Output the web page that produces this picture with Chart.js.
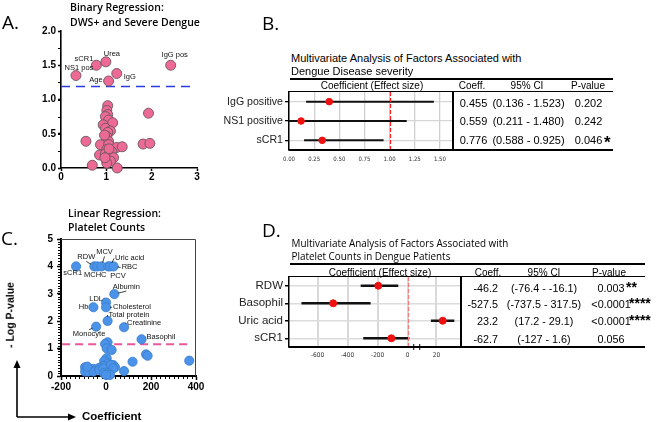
<!DOCTYPE html>
<html>
<head>
<meta charset="utf-8">
<script src="https://cdn.jsdelivr.net/npm/chart.js@4.4.0/dist/chart.umd.min.js"></script>
<style>
  html, body { margin: 0; padding: 0; background: #fff; }
  #page { position: relative; width: 661px; height: 422px; overflow: hidden; font-family: "Liberation Sans", Arial, sans-serif; color: #000; }
  .box { position: absolute; }
  .t { position: absolute; white-space: nowrap; line-height: 1; }
  .rule { position: absolute; background: #000; }
</style>
</head>
<body>
<div id="page">
  <svg class="box" style="left:0;top:0" width="661" height="422">
    <line x1="17" y1="417" x2="17" y2="367" stroke="#000" stroke-width="1.6"/>
    <polygon points="17,360 13.5,368 20.5,368" fill="#000"/>
    <line x1="17" y1="417" x2="69" y2="417" stroke="#000" stroke-width="1.6"/>
    <polygon points="76,417 68,413.5 68,420.5" fill="#000"/>
  </svg>
  <div class="box" style="left:0px;top:0px"><canvas id="cA" width="225" height="190"></canvas></div>
  <div class="box" style="left:0px;top:190px"><canvas id="cC" width="225" height="232"></canvas></div>
  <div class="box" style="left:215px;top:75px"><canvas id="cB" width="250" height="100"></canvas></div>
  <div class="box" style="left:215px;top:262px"><canvas id="cD" width="255" height="100"></canvas></div>
</div>
<script>
// ---- A: binary regression, DWS+ and severe dengue (x = coefficient, y = -log p) ----
var aNames = ["NS1 pos", "sCR1", "Urea", "IgG pos", "Age", "IgG"];
var aNamedX = [0.33, 0.78, 0.99, 2.42, 1.05, 1.23];
var aNamedY = [1.35, 1.50, 1.55, 1.50, 1.27, 1.38];
var aX = [1.03, 1.01, 1.03, 0.98, 1.05, 0.93, 1.14, 0.98, 1.09, 1.03, 1.01, 1.00, 1.05, 0.55, 0.87, 1.05, 1.23, 1.35,
          1.01, 1.12, 0.85, 0.98, 1.05, 1.16, 1.00, 1.09, 0.69, 1.24, 1.93, 1.81, 1.96, 1.01, 0.96, 1.06, 0.97];
var aY = [0.91, 0.84, 0.78, 0.75, 0.70, 0.63, 0.66, 0.58, 0.54, 0.52, 0.46, 0.41, 0.39, 0.39, 0.34, 0.34, 0.30, 0.31,
          0.27, 0.24, 0.19, 0.21, 0.19, 0.15, 0.12, 0.10, 0.04, 0.00, 0.80, 0.35, 0.36, 0.07, 0.48, 0.28, 0.15];
var aCutoff = 1.19;
var aXTicks = [0, 1, 2, 3];
var aYTicks = [0, 0.5, 1, 1.5, 2];

// ---- B: multivariate analysis, disease severity ----
var bRows = ["IgG positive", "NS1 positive", "sCR1"];
var bEst = [0.40, 0.12, 0.33];
var bLow = [0.17, 0.00, 0.15];
var bHigh = [1.44, 1.17, 0.94];
var bTicks = [0, 0.25, 0.5, 0.75, 1, 1.25, 1.5];
var bCoeff = ["0.455", "0.559", "0.776"];
var bCI = ["(0.136 - 1.523)", "(0.211 - 1.480)", "(0.588 - 0.925)"];
var bP = ["0.202", "0.242", "0.046"];
var bStars = ["", "", "*"];

// ---- C: linear regression, platelet counts ----
var cNames = ["sCR1", "RDW", "MCHC", "MCV", "PCV", "Uric acid", "RBC", "Albumin", "LDL", "Hb",
              "Cholesterol", "Total protein", "Creatinine", "Monocyte", "Basophil"];
var cNamedX = [-133, -52, -39, -20, 10, 18, 34, 37, 0, -56, 0, 7, 80, -44, 158];
var cNamedY = [4.0, 4.0, 4.0, 4.0, 4.0, 4.0, 4.0, 2.99, 2.68, 2.51, 2.51, 2.01, 1.78, 1.80, 1.34];
var cX = [7, -4, 3, 25, 178, 185, 118, 370, 3, -8, 10, 32, -12, 15, 40, -93, -74, -56, -30, -93,
          -79, -56, -30, -12, 22, 32, 80, -9, 10, 18, -83, 0];
var cY = [1.23, 1.17, 1.01, 0.95, 0.79, 0.74, 0.52, 0.56, 0.65, 0.55, 0.46, 0.40, 0.37, 0.32, 0.32, 0.32, 0.26, 0.26, 0.30, 0.16,
          0.16, 0.16, 0.22, 0.28, 0.40, 0.28, 0.18, 0.10, 0.10, 0.04, 0.34, 0.04];
var cCutoff = 1.16;
var cXTicks = [-200, 0, 200, 400];
var cYTicks = [0, 1, 2, 3, 4, 5];

// ---- D: multivariate analysis, platelet counts (broken x axis) ----
var dRows = ["RDW", "Basophil", "Uric acid", "sCR1"];
var dEst = [-196, -496, 23.2, -109];
var dLow = [-313, -707, 17.2, -296];
var dHigh = [-63, -247, 29.1, 11];
var dSide = ["x", "x", "x2", "x"];
var dTicksLeft = [-600, -400, -200, 0];
var dTicksRight = [20];
var dCoeff = ["-46.2", "-527.5", "23.2", "-62.7"];
var dCI = ["(-76.4 - -16.1)", "(-737.5 - 317.5)", "(17.2 - 29.1)", "(-127 - 1.6)"];
var dP = ["0.003", "<0.0001", "<0.0001", "0.056"];
var dStars = ["**", "****", "****", ""];

// label placement (pixel offsets from the point): dx, dy, align, leader line
var aLabelPos = [[3, -8, "center", 0], [-3, -6, "right", 0], [6, -8, "center", 0],
                 [4, -10, "center", 0], [-6, -1, "right", 0], [7, 3, "left", 0]];
var cLabelPos = [[6, 7, "right", 0], [-8, -9, "center", 1], [-2, 9, "center", 0], [3, -14, "center", 1],
                 [2, 9.5, "left", 0], [5, -8, "left", 1], [8, 1, "left", 1], [12, -7, "center", 1],
                 [-3, -4, "right", 1], [-5, 0, "right", 0], [7, 0, "left", 1], [1, -6, "left", 1],
                 [3, -4, "left", 1], [-7, 7, "center", 1], [5, -2, "left", 1]];

var page = document.getElementById("page");
var SANS = '"Liberation Sans", Arial, sans-serif';
var NARROW = '"Liberation Sans Narrow", "DejaVu Sans Condensed", "Liberation Sans", sans-serif';

function put(txt, x, y, css, align) {
  var el = document.createElement("div");
  el.className = "t";
  el.textContent = txt;
  el.style.cssText = "left:" + x + "px;top:" + y + "px;" + (css || "");
  var tx = align === "left" ? "0" : align === "right" ? "-100%" : "-50%";
  el.style.transform = "translate(" + tx + ",-50%)";
  page.appendChild(el);
  return el;
}
function rule(x, y, w, h) {
  var el = document.createElement("div");
  el.className = "rule";
  el.style.cssText = "left:" + x + "px;top:" + y + "px;width:" + w + "px;height:" + h + "px;";
  page.appendChild(el);
}
function pts(xs, ys) {
  return xs.map(function (x, i) { return { x: x, y: ys[i] }; });
}
function fixTicks(list) {
  return function (s) { s.ticks = list.map(function (v) { return { value: v }; }); };
}

Chart.defaults.font.family = SANS;
Chart.defaults.color = "#000";
Chart.defaults.animation = false;

// text labels next to points, with short leader lines
var pointLabels = {
  id: "pointLabels",
  afterDatasetsDraw: function (chart, args, opts) {
    var ctx = chart.ctx;
    chart.data.datasets.forEach(function (ds, i) {
      if (!ds.names) return;
      var meta = chart.getDatasetMeta(i);
      ctx.save();
      ctx.font = opts.font;
      ctx.fillStyle = "#111";
      ctx.strokeStyle = "#111";
      ctx.lineWidth = 0.8;
      ctx.textBaseline = "middle";
      meta.data.forEach(function (pt, j) {
        var p = ds.namePos[j];
        var tx = pt.x + p[0], ty = pt.y + p[1];
        ctx.textAlign = p[2];
        ctx.fillText(ds.names[j], tx, ty);
        if (p[3]) {
          var ex = tx, ey = ty;
          if (p[2] === "left") ex = tx - 1;
          else if (p[2] === "right") ex = tx + 1;
          else ey = ty + (p[1] < 0 ? 4 : -4);
          var dx = ex - pt.x, dy = ey - pt.y, d = Math.sqrt(dx * dx + dy * dy) || 1;
          ctx.beginPath();
          ctx.moveTo(pt.x + dx / d * 4, pt.y + dy / d * 4);
          ctx.lineTo(ex, ey);
          ctx.stroke();
        }
      });
      ctx.restore();
    });
  }
};

// vertical dashed reference line
var refLine = {
  id: "refLine",
  afterDatasetsDraw: function (chart, args, opts) {
    if (!opts || opts.value === undefined) return;
    var s = chart.scales[opts.scale];
    var x = Math.round(s.getPixelForValue(opts.value)) + 0.5;
    var a = chart.chartArea, ctx = chart.ctx;
    ctx.save();
    ctx.strokeStyle = opts.color;
    ctx.lineWidth = opts.width || 1;
    ctx.setLineDash(opts.dash || [4, 3]);
    ctx.beginPath();
    ctx.moveTo(x, a.top);
    ctx.lineTo(x, a.bottom);
    ctx.stroke();
    ctx.restore();
  }
};

// thin frame and minor ticks for the volcano panels
var frame = {
  id: "frame",
  beforeDatasetsDraw: function (chart, args, opts) {
    if (!opts || !opts.on) return;
    var a = chart.chartArea, ctx = chart.ctx;
    ctx.save();
    ctx.strokeStyle = "#444";
    ctx.lineWidth = 1;
    if (opts.box) {
      ctx.beginPath();
      ctx.moveTo(a.left, a.top + 0.5);
      ctx.lineTo(a.right - 0.5, a.top + 0.5);
      ctx.lineTo(a.right - 0.5, a.bottom);
      ctx.stroke();
    }
    ctx.strokeStyle = "#000";
    var y = chart.scales.y, x = chart.scales.x, v;
    if (opts.yMinor) {
      ctx.beginPath();
      for (v = y.min; v <= y.max + 1e-9; v += opts.yMinor) {
        var py = Math.round(y.getPixelForValue(v)) + 0.5;
        ctx.moveTo(a.left - 3, py);
        ctx.lineTo(a.left, py);
      }
      ctx.stroke();
    }
    if (opts.xMinor) {
      ctx.beginPath();
      for (v = x.min; v <= x.max + 1e-9; v += opts.xMinor) {
        var px = Math.round(x.getPixelForValue(v)) + 0.5;
        ctx.moveTo(px, a.bottom);
        ctx.lineTo(px, a.bottom + 3);
      }
      ctx.stroke();
    }
    ctx.restore();
  }
};

// small break mark where the two x scales of panel D meet
var axisBreak = {
  id: "axisBreak",
  afterDraw: function (chart, args, opts) {
    if (!opts || !opts.on) return;
    var x = chart.scales.x.right, y = chart.chartArea.bottom, ctx = chart.ctx;
    ctx.save();
    ctx.fillStyle = "#fff";
    ctx.fillRect(x - 3, y - 2, 6, 4);
    ctx.strokeStyle = "#000";
    ctx.lineWidth = 1;
    ctx.beginPath();
    ctx.moveTo(x - 3, y - 3); ctx.lineTo(x - 3, y + 3);
    ctx.moveTo(x + 3, y - 3); ctx.lineTo(x + 3, y + 3);
    ctx.stroke();
    ctx.restore();
  }
};

var boldTick = { family: SANS, size: 10, weight: "bold" };

// ---------- Panel A ----------
var pink = { backgroundColor: "#ec6a93", borderColor: "#6d5560", borderWidth: 0.9, pointRadius: 5, clip: false };
new Chart(document.getElementById("cA"), {
  type: "scatter",
  data: {
    datasets: [
      Object.assign({ data: pts(aX, aY) }, pink),
      Object.assign({ data: pts(aNamedX, aNamedY), names: aNames, namePos: aLabelPos }, pink),
      { data: [{ x: 0, y: aCutoff }, { x: 2.88, y: aCutoff }], showLine: true, pointRadius: 0,
        borderColor: "#2a3ae0", borderWidth: 1.5, borderDash: [9, 6] }
    ]
  },
  options: {
    responsive: false,
    layout: { padding: { top: 31, right: 28, left: 0, bottom: 0 } },
    plugins: { legend: { display: false }, tooltip: { enabled: false },
               pointLabels: { font: "7.5px " + SANS }, frame: { on: true, yMinor: 0.25 } },
    scales: {
      x: { type: "linear", min: 0, max: 3, afterBuildTicks: fixTicks(aXTicks),
           afterFit: function (s) { s.height = 22; },
           ticks: { font: boldTick, padding: 0 },
           grid: { drawOnChartArea: false, tickLength: 3, tickColor: "#000", tickWidth: 1.5 },
           border: { color: "#000", width: 1.6 } },
      y: { type: "linear", min: 0, max: 2, afterBuildTicks: fixTicks(aYTicks),
           afterFit: function (s) { s.width = 61; },
           ticks: { font: boldTick, padding: 2, callback: function (v) { return v.toFixed(1); } },
           grid: { drawOnChartArea: false, tickLength: 3, tickColor: "#000", tickWidth: 1.5 },
           border: { color: "#000", width: 1.6 } }
    }
  },
  plugins: [pointLabels, frame]
});

// ---------- Panel C ----------
var blue = { backgroundColor: "#4b93e8", borderColor: "#3a7ccc", borderWidth: 0.8, pointRadius: 4.6, clip: false };
new Chart(document.getElementById("cC"), {
  type: "scatter",
  data: {
    datasets: [
      Object.assign({ data: pts(cX, cY) }, blue),
      Object.assign({ data: pts(cNamedX, cNamedY), names: cNames, namePos: cLabelPos }, blue),
      { data: [{ x: -195, y: cCutoff }, { x: 375, y: cCutoff }], showLine: true, pointRadius: 0,
        borderColor: "#e8589a", borderWidth: 2, borderDash: [8, 5] }
    ]
  },
  options: {
    responsive: false,
    layout: { padding: { top: 49, right: 29, left: 0, bottom: 0 } },
    plugins: { legend: { display: false }, tooltip: { enabled: false },
               pointLabels: { font: "7.5px " + SANS }, frame: { on: true, box: true, yMinor: 0.1, xMinor: 20 } },
    scales: {
      x: { type: "linear", min: -200, max: 400, afterBuildTicks: fixTicks(cXTicks),
           afterFit: function (s) { s.height = 46; },
           ticks: { font: boldTick, padding: 1 },
           grid: { drawOnChartArea: false, tickLength: 4, tickColor: "#000", tickWidth: 1.5 },
           border: { color: "#000", width: 2 } },
      y: { type: "linear", min: 0, max: 5, afterBuildTicks: fixTicks(cYTicks),
           afterFit: function (s) { s.width = 61; },
           ticks: { font: boldTick, padding: 4 },
           grid: { drawOnChartArea: false, tickLength: 4, tickColor: "#000", tickWidth: 1.5 },
           border: { color: "#000", width: 2 } }
    }
  },
  plugins: [pointLabels, frame]
});

// ---------- Panel B ----------
var bSets = bRows.map(function (r, i) {
  return { data: [{ x: bLow[i], y: r }, { x: bHigh[i], y: r }], borderColor: "#111", borderWidth: 2, pointRadius: 0 };
});
bSets.unshift({ data: bRows.map(function (r, i) { return { x: bEst[i], y: r }; }), showLine: false,
                pointRadius: 3.3, backgroundColor: "#f01010", borderColor: "#f01010", clip: false });
new Chart(document.getElementById("cB"), {
  type: "line",
  data: { labels: bRows, datasets: bSets },
  options: {
    responsive: false,
    layout: { padding: { top: 17, right: 12, left: 0, bottom: 0 } },
    plugins: { legend: { display: false }, tooltip: { enabled: false },
               refLine: { scale: "x", value: 1, color: "#ff1a1a", dash: [4, 2], width: 1.2 } },
    scales: {
      x: { type: "linear", min: 0, max: 1.63, afterBuildTicks: fixTicks(bTicks),
           afterFit: function (s) { s.height = 25; },
           ticks: { font: { family: NARROW, size: 6 }, color: "#333", padding: 6,
                    callback: function (v) { return Number(v).toFixed(2); } },
           grid: { color: "#cfcfcf", lineWidth: 1.3, drawTicks: false },
           border: { color: "#000", width: 1.5 } },
      y: { type: "category", offset: true,
           afterFit: function (s) { s.width = 74; },
           ticks: { font: { family: SANS, size: 10.6 }, color: "#222", padding: 2 },
           grid: { offset: false, color: "#d6d6d6", lineWidth: 1.3, tickColor: "#000", tickLength: 4 },
           border: { color: "#000", width: 1.5 } }
    }
  },
  plugins: [refLine]
});

// ---------- Panel D ----------
var dSets = dRows.map(function (r, i) {
  return { xAxisID: dSide[i], data: [{ x: dLow[i], y: r }, { x: dHigh[i], y: r }],
           borderColor: "#111", borderWidth: 2.4, pointRadius: 0 };
});
dRows.forEach(function (r, i) {
  dSets.unshift({ xAxisID: dSide[i], data: [{ x: dEst[i], y: r }], showLine: false,
                  pointRadius: 3.5, backgroundColor: "#f01010", borderColor: "#f01010", clip: false });
});
var dTickFont = { family: NARROW, size: 6.5 };
new Chart(document.getElementById("cD"), {
  type: "line",
  data: { labels: dRows, datasets: dSets },
  options: {
    responsive: false,
    layout: { padding: { top: 15, right: 9, left: 0, bottom: 0 } },
    plugins: { legend: { display: false }, tooltip: { enabled: false },
               refLine: { scale: "x", value: 0, color: "#f47a7a", dash: [4, 2], width: 1.2 },
               axisBreak: { on: true } },
    scales: {
      x: { type: "linear", position: "bottom", stack: "dx", stackWeight: 127, min: -790, max: 60,
           afterBuildTicks: fixTicks(dTicksLeft),
           afterFit: function (s) { s.height = 15; },
           ticks: { font: dTickFont, color: "#333", padding: 4 },
           grid: { color: "#d9d9d9", lineWidth: 2, drawTicks: false },
           border: { color: "#000", width: 1.5 } },
      x2: { type: "linear", position: "bottom", stack: "dx", stackWeight: 44, min: 10, max: 32.5,
            afterBuildTicks: fixTicks(dTicksRight),
            afterFit: function (s) { s.height = 15; },
            ticks: { font: dTickFont, color: "#333", padding: 4 },
            grid: { color: "#d9d9d9", lineWidth: 2, drawTicks: false },
            border: { color: "#000", width: 1.5 } },
      y: { type: "category", offset: true,
           afterFit: function (s) { s.width = 74; },
           ticks: { font: { family: SANS, size: 11.5 }, color: "#222", padding: 2 },
           grid: { offset: false, color: "#dcdcdc", lineWidth: 1.5, tickColor: "#000", tickLength: 4 },
           border: { color: "#000", width: 1.5 } }
    }
  },
  plugins: [refLine, axisBreak]
});

// ---------- text, tables and rules ----------
var TITLE = 'font-family:"Open Sans",sans-serif;font-weight:600;font-size:10.5px;';
var LETTER = 'font-family:"Open Sans",sans-serif;font-size:19px;';
put("A.", 2, 22, LETTER, "left");
put("B.", 262, 23, LETTER, "left");
put("C.", 1, 238, LETTER, "left");
put("D.", 262, 230, LETTER, "left");
put("Binary Regression:", 70, 7, TITLE, "left");
put("DWS+ and Severe Dengue", 70, 22, TITLE, "left");
put("Linear Regression:", 68, 213, TITLE, "left");
put("Platelet Counts", 68, 227, TITLE, "left");
put("Coefficient", 82, 417, "font-weight:bold;font-size:11.5px;", "left");
var yl = put("- Log P-value", 10, 315, "font-weight:bold;font-size:10.5px;", "center");
yl.style.transform = "translate(-50%,-50%) rotate(-90deg)";

// B table
put("Multivariate Analysis of Factors Associated with", 291, 58, "font-size:11px;", "left");
put("Dengue Disease severity", 291, 71, "font-size:11px;", "left");
rule(290, 78, 323, 2);
rule(289, 91, 324, 1);
rule(452, 91, 2, 59);
rule(289, 149, 324, 2);
var HEAD = "font-size:10px;";
put("Coefficient (Effect size)", 372, 86, HEAD);
put("Coeff.", 472, 86, HEAD);
put("95% CI", 527, 86, HEAD);
put("P-value", 588, 86, HEAD);
var bRowY = [102.7, 121, 140];
bRows.forEach(function (r, i) {
  put(bCoeff[i], 473.5, bRowY[i], "font-size:11px;");
  put(bCI[i], 528.5, bRowY[i], "font-size:11px;");
  put(bP[i], 588.5, bRowY[i], "font-size:11px;");
  if (bStars[i]) put(bStars[i], 604, bRowY[i] + 2, "font-size:17px;font-weight:bold;", "left");
});

// D table
var DT = 'font-family:"Open Sans",sans-serif;font-size:9.9px;';
put("Multivariate Analysis of Factors Associated with", 291.5, 244, DT, "left");
put("Platelet Counts in Dengue Patients", 291.5, 257, DT, "left");
rule(290, 263, 355, 2);
rule(289, 276, 356, 1);
rule(460, 276, 2, 71);
rule(289, 346, 356, 2);
put("Coefficient (Effect size)", 380, 272.5, HEAD);
put("Coeff.", 488, 272.5, HEAD);
put("95% CI", 544, 272.5, HEAD);
put("P-value", 609, 272.5, HEAD);
var dRowY = [288.3, 303.7, 321, 339];
var dStarX = [626, 629, 629, 0];
dRows.forEach(function (r, i) {
  put(dCoeff[i], 498, dRowY[i], "font-size:10.8px;", "right");
  put(dCI[i], 544, dRowY[i], "font-size:10.8px;");
  put(dP[i], 611, dRowY[i], "font-size:10.8px;");
  if (dStars[i]) put(dStars[i], dStarX[i], dRowY[i] - 1, "font-size:14px;font-weight:bold;", "left");
});
</script>
</body>
</html>
